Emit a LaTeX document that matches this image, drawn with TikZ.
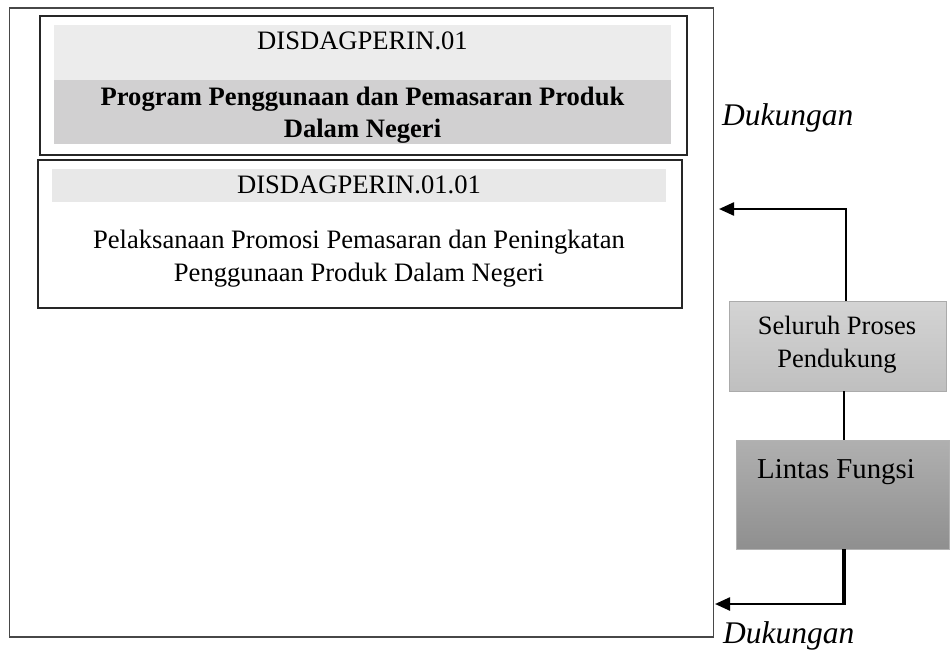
\documentclass[tikz,border=0pt]{standalone}
\usepackage{fontspec}
\setmainfont{Liberation Serif}
\usetikzlibrary{arrows.meta}

\definecolor{frame}{HTML}{474747}
\definecolor{bandlight}{HTML}{ECECEC}
\definecolor{banddark}{HTML}{D1D0D1}
\definecolor{bandsub}{HTML}{E8E8E8}

\tikzset{
  box/.style={draw=#1, rectangle, inner sep=0pt, anchor=north west},
  band/.style={fill=#1, draw=none, rectangle, inner sep=0pt, anchor=north west},
  txt/.style={inner sep=0pt, font=\fontsize{26.6}{33.5}\selectfont, align=center},
  dukung/.style={inner sep=0pt, anchor=base west, font=\fontsize{31.5}{36}\selectfont\itshape},
  flow/.style={line width=2.4pt, -{Triangle[length=15pt,width=13pt]}},
}

\begin{document}
\begin{tikzpicture}[x=1pt,y=-1pt]
  \useasboundingbox (0,0) rectangle (952,658);

  % main frame
  \node[box=frame, line width=1.8pt, minimum width=704pt, minimum height=629pt] (outer) at (8.5,7) {};

  % programme box
  \node[box=black!85, line width=1.6pt, minimum width=647pt, minimum height=139pt] (prog) at (39,15) {};
  \node[band=bandlight, minimum width=617pt, minimum height=55pt] (progcode) at (54,25) {};
  \node[band=banddark, minimum width=617pt, minimum height=64pt] (progname) at (54,80) {};
  \node[txt, anchor=base] (progcodetext) at (362.5,50) {DISDAGPERIN.01};
  \node[txt, font=\fontsize{26.6}{32.5}\selectfont\bfseries] (prognametext) at (362.5,115)
    {Program Penggunaan dan Pemasaran Produk\\Dalam Negeri};

  % activity box
  \node[box=black!85, line width=1.6pt, minimum width=644pt, minimum height=148pt] (sub) at (37,159) {};
  \node[band=bandsub, minimum width=614pt, minimum height=33pt] (subcode) at (52,169) {};
  \node[txt, anchor=base] (subcodetext) at (359,193) {DISDAGPERIN.01.01};
  \node[txt] (subnametext) at (359,258.5)
    {Pelaksanaan Promosi Pemasaran dan Peningkatan\\Penggunaan Produk Dalam Negeri};

  % supporting processes
  \node[box=black!33, line width=1pt, minimum width=217pt, minimum height=90pt,
        top color=black!17, bottom color=black!25] (seluruh) at (729,301) {};
  \node[txt, font=\fontsize{26.5}{33}\selectfont] (seluruhtext) at (837,345)
    {Seluruh Proses\\Pendukung};

  \node[box=black!30, line width=1pt, minimum width=213pt, minimum height=109pt,
        top color=black!31, bottom color=black!44] (lintas) at (736,440) {};
  \node[txt, anchor=base, font=\fontsize{28.8}{34}\selectfont] (lintastext) at (836,478) {Lintas Fungsi};

  % connectors
  \coordinate (intop) at (719,209);
  \coordinate (inbot) at (715,604);
  \draw[flow] (846,301) |- (intop);
  \draw[line width=2.2pt] (844,391) -- (844,440);
  \draw[line width=4pt] (844,549) -- (844,605);
  \draw[flow] (845.5,604) -- (inbot);

  % labels
  \node[dukung] (dukungtop) at (722,125) {Dukungan};
  \node[dukung] (dukungbot) at (723,643) {Dukungan};
\end{tikzpicture}
\end{document}
